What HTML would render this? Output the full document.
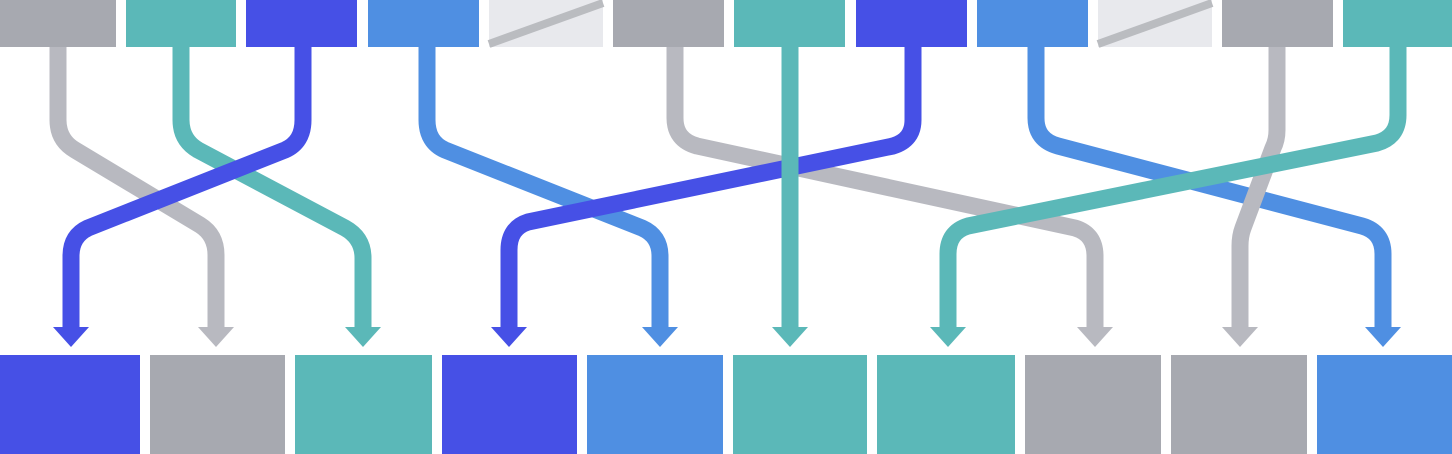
<!DOCTYPE html>
<html><head><meta charset="utf-8"><style>html,body{margin:0;padding:0;background:#fff;width:1452px;height:454px;overflow:hidden}</style></head>
<body>
<svg width="1452" height="454" viewBox="0 0 1452 454" xmlns="http://www.w3.org/2000/svg">
<g>
<rect x="0" y="0" width="116" height="47" fill="#a7a9b0"/>
<rect x="126" y="0" width="110" height="47" fill="#5bb8b8"/>
<rect x="246" y="0" width="111" height="47" fill="#4650e6"/>
<rect x="368" y="0" width="111" height="47" fill="#4f8fe2"/>
<rect x="489" y="0" width="114" height="47" fill="#e8e9ed"/>
<line x1="489" y1="44" x2="603" y2="3" stroke="#babcc0" stroke-width="8"/>
<rect x="613" y="0" width="111" height="47" fill="#a7a9b0"/>
<rect x="734" y="0" width="111" height="47" fill="#5bb8b8"/>
<rect x="856" y="0" width="111" height="47" fill="#4650e6"/>
<rect x="977" y="0" width="111" height="47" fill="#4f8fe2"/>
<rect x="1098" y="0" width="114" height="47" fill="#e8e9ed"/>
<line x1="1098" y1="44" x2="1212" y2="3" stroke="#babcc0" stroke-width="8"/>
<rect x="1222" y="0" width="111" height="47" fill="#a7a9b0"/>
<rect x="1343" y="0" width="109" height="47" fill="#5bb8b8"/>
</g>
<g>
<rect x="0" y="355" width="140" height="99" fill="#4650e6"/>
<rect x="150" y="355" width="135" height="99" fill="#a7a9b0"/>
<rect x="295" y="355" width="137" height="99" fill="#5bb8b8"/>
<rect x="442" y="355" width="135" height="99" fill="#4650e6"/>
<rect x="587" y="355" width="136" height="99" fill="#4f8fe2"/>
<rect x="733" y="355" width="134" height="99" fill="#5bb8b8"/>
<rect x="877" y="355" width="138" height="99" fill="#5bb8b8"/>
<rect x="1025" y="355" width="136" height="99" fill="#a7a9b0"/>
<rect x="1171" y="355" width="136" height="99" fill="#a7a9b0"/>
<rect x="1317" y="355" width="135" height="99" fill="#4f8fe2"/>
</g>
<g fill="none" stroke-width="17" stroke-linejoin="round">
<path d="M58,47 V120 Q58,140 75,150 L200,225 Q216,235 216,255 V330" stroke="#b8b9c0"/>
<path d="M675,47 V118 Q675,140 697,146 L1075,228 Q1095,234 1095,256 V330" stroke="#b8b9c0"/>
<path d="M427,47 V120 Q427,142 445,150 L642,228 Q660,236 660,256 V330" stroke="#4f8fe2"/>
<path d="M1036,47 V118 Q1036,140 1058,146 L1362,226 Q1383,232 1383,254 V330" stroke="#4f8fe2"/>
<path d="M1277,47 V130 Q1277,140 1273,148 L1243,228 Q1240,236 1240,246 V330" stroke="#b8b9c0"/>
<path d="M181,47 V120 Q181,140 198,150 L345,228 Q363,238 363,258 V330" stroke="#5bb8b8"/>
<path d="M303,47 V120 Q303,142 285,150 L88,228 Q71,236 71,256 V330" stroke="#4650e6"/>
<path d="M913,47 V120 Q913,140 893,146 L528,222 Q509,228 509,250 V330" stroke="#4650e6"/>
<path d="M1398,47 V115 Q1398,137 1377,143 L968,226 Q948,232 948,254 V330" stroke="#5bb8b8"/>
<path d="M790,47 V330" stroke="#5bb8b8"/>
</g>
<g>
<polygon points="53,327 89,327 71,347" fill="#4650e6"/>
<polygon points="198,327 234,327 216,347" fill="#b8b9c0"/>
<polygon points="345,327 381,327 363,347" fill="#5bb8b8"/>
<polygon points="491,327 527,327 509,347" fill="#4650e6"/>
<polygon points="642,327 678,327 660,347" fill="#4f8fe2"/>
<polygon points="772,327 808,327 790,347" fill="#5bb8b8"/>
<polygon points="930,327 966,327 948,347" fill="#5bb8b8"/>
<polygon points="1077,327 1113,327 1095,347" fill="#b8b9c0"/>
<polygon points="1222,327 1258,327 1240,347" fill="#b8b9c0"/>
<polygon points="1365,327 1401,327 1383,347" fill="#4f8fe2"/>
</g>
</svg>
</body></html>
